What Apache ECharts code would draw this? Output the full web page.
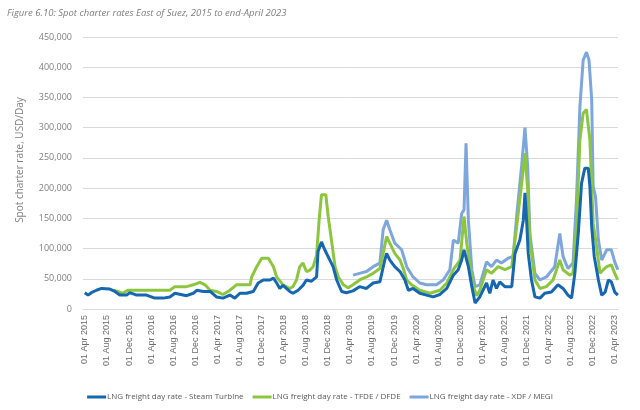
<!DOCTYPE html>
<html>
<head>
<meta charset="utf-8">
<script src="https://cdn.jsdelivr.net/npm/echarts@6/dist/echarts.min.js"></script>
<style>
html,body{margin:0;padding:0;background:#fff;}
#chart{width:640px;height:410px;}
</style>
</head>
<body>
<div id="chart"></div>
<script>
// ---- Data (USD/day, thousands) ----
var seriesNames = [
  'LNG freight day rate - Steam Turbine',
  'LNG freight day rate - TFDE / DFDE',
  'LNG freight day rate - XDF / MEGI'
];

var steamDates = ['2015-04-01','2015-04-19','2015-05-07','2015-06-04','2015-07-02','2015-08-17','2015-09-14','2015-10-11','2015-11-17','2015-12-05','2016-01-12','2016-03-06','2016-04-21','2016-06-06','2016-07-13','2016-08-10','2016-10-13','2016-11-19','2016-12-08','2017-01-14','2017-02-20','2017-03-27','2017-05-02','2017-06-09','2017-07-06','2017-08-03','2017-09-09','2017-10-16','2017-11-12','2017-12-10','2018-01-16','2018-02-04','2018-02-22','2018-03-11','2018-03-29','2018-05-05','2018-05-23','2018-06-20','2018-07-17','2018-08-05','2018-09-02','2018-09-30','2018-10-08','2018-10-27','2018-11-14','2018-11-24','2018-12-12','2018-12-30','2019-01-19','2019-02-15','2019-03-13','2019-04-19','2019-05-25','2019-07-02','2019-08-08','2019-09-14','2019-10-11','2019-10-21','2019-11-08','2019-12-05','2020-01-03','2020-01-30','2020-02-18','2020-03-15','2020-04-21','2020-05-28','2020-07-04','2020-08-10','2020-09-17','2020-10-23','2020-11-19','2020-12-08','2020-12-21','2021-01-01','2021-01-14','2021-02-02','2021-02-20','2021-03-18','2021-04-24','2021-05-12','2021-05-30','2021-06-18','2021-07-06','2021-08-03','2021-09-10','2021-09-28','2021-10-25','2021-11-13','2021-11-22','2021-12-01','2021-12-10','2021-12-28','2022-01-16','2022-02-13','2022-03-11','2022-04-17','2022-05-23','2022-06-20','2022-07-17','2022-08-06','2022-08-24','2022-09-12','2022-09-30','2022-10-18','2022-11-06','2022-11-15','2022-11-25','2022-12-09','2023-01-01','2023-01-19','2023-02-07','2023-02-25','2023-03-13','2023-04-01','2023-04-18'];
var steamValues = [27,23,27,31,34,33,29,23,23,27,23,23,18,18,20,26,22,26,31,29,29,20,18,23,18,26,26,29,43,48,48,51,43,34,39,29,26,31,39,48,46,53,95,111,98,98,81,70,48,29,27,30,37,34,43,45,81,92,81,70,62,48,31,34,26,23,20,24,34,56,65,81,98,100,70,37,10,20,43,26,48,34,45,37,37,92,114,147,192,147,92,48,20,18,26,28,40,34,23,18,59,125,208,233,233,203,136,87,48,23,28,48,45,28,23];

var tfdeDates = ['2015-09-05','2015-09-30','2015-10-27','2015-11-24','2016-02-15','2016-05-18','2016-07-13','2016-08-10','2016-10-13','2016-11-19','2016-12-26','2017-01-23','2017-02-20','2017-03-27','2017-05-02','2017-06-09','2017-07-15','2017-09-28','2017-10-07','2017-11-04','2017-12-01','2018-01-07','2018-02-04','2018-02-22','2018-03-29','2018-05-05','2018-05-23','2018-06-11','2018-06-29','2018-07-17','2018-08-05','2018-08-23','2018-09-11','2018-09-30','2018-10-14','2018-10-27','2018-11-20','2018-12-03','2018-12-21','2019-01-10','2019-01-28','2019-02-25','2019-03-22','2019-04-19','2019-05-25','2019-07-02','2019-08-08','2019-09-14','2019-10-02','2019-10-21','2019-11-08','2019-12-05','2020-01-03','2020-01-21','2020-02-09','2020-03-07','2020-04-21','2020-06-16','2020-08-10','2020-09-17','2020-10-23','2020-11-29','2020-12-21','2021-01-05','2021-01-23','2021-02-11','2021-03-01','2021-03-18','2021-04-24','2021-05-21','2021-06-27','2021-08-03','2021-09-10','2021-10-07','2021-11-04','2021-11-22','2021-12-07','2021-12-19','2022-01-16','2022-02-13','2022-03-20','2022-04-26','2022-06-02','2022-06-20','2022-07-27','2022-08-14','2022-09-02','2022-09-21','2022-10-09','2022-10-27','2022-11-15','2022-12-03','2022-12-22','2023-01-10','2023-01-28','2023-02-16','2023-03-13','2023-04-01','2023-04-18'];
var tfdeValues = [31,29,26,31,31,31,31,37,37,40,44,40,31,29,24,31,40,40,53,70,84,84,70,53,40,34,37,48,70,76,62,64,70,89,147,189,189,153,114,70,53,40,35,40,48,53,59,67,92,120,109,92,81,67,48,40,31,26,31,43,65,81,153,109,70,37,22,31,65,59,70,65,70,136,208,258,197,114,48,34,37,48,81,65,56,59,136,280,324,330,280,142,103,59,65,70,73,59,48];

var xdfDates = ['2019-04-19','2019-05-25','2019-07-02','2019-08-08','2019-09-14','2019-10-02','2019-10-21','2019-11-08','2019-12-05','2020-01-12','2020-02-09','2020-03-15','2020-04-21','2020-05-28','2020-07-22','2020-08-28','2020-10-04','2020-10-23','2020-11-19','2020-12-08','2020-12-21','2021-01-01','2021-01-14','2021-02-02','2021-02-20','2021-03-18','2021-04-24','2021-05-21','2021-06-18','2021-07-15','2021-08-21','2021-09-18','2021-10-07','2021-11-04','2021-11-22','2021-12-07','2021-12-19','2022-01-16','2022-02-13','2022-03-20','2022-05-05','2022-06-02','2022-06-20','2022-07-17','2022-08-14','2022-09-02','2022-09-21','2022-10-09','2022-10-27','2022-11-10','2022-11-25','2022-12-03','2022-12-16','2023-01-01','2023-01-19','2023-02-16','2023-03-13','2023-04-01','2023-04-18'];
var xdfValues = [56,59,62,70,76,131,147,131,109,98,70,53,43,40,40,48,65,114,109,158,164,274,147,65,37,40,78,70,81,76,84,87,153,238,300,236,125,59,48,53,70,125,87,67,76,180,335,412,425,412,346,203,186,114,81,98,98,78,65];

var xLabelDates = ['2015-04-01','2015-08-01','2015-12-01','2016-04-01','2016-08-01','2016-12-01','2017-04-01','2017-08-01','2017-12-01','2018-04-01','2018-08-01','2018-12-01','2019-04-01','2019-08-01','2019-12-01','2020-04-01','2020-08-01','2020-12-01','2021-04-01','2021-08-01','2021-12-01','2022-04-01','2022-08-01','2022-12-01','2023-04-01'];
var yTicks = [0,50000,100000,150000,200000,250000,300000,350000,400000,450000];

var monthNames = ['Jan','Feb','Mar','Apr','May','Jun','Jul','Aug','Sep','Oct','Nov','Dec'];
function ts(s){ var p = s.split('-'); return Date.UTC(+p[0], +p[1]-1, +p[2]); }
function pairs(dates, vals){ return dates.map(function(d,i){ return [ts(d), vals[i]*1000]; }); }
function fmtDate(v){ var d = new Date(v); var dd = d.getUTCDate(); return (dd<10?'0':'')+dd+' '+monthNames[d.getUTCMonth()]+' '+d.getUTCFullYear(); }
function fmtNum(v){ return String(v).replace(/\B(?=(\d{3})+(?!\d))/g, ','); }

var colors = ['#1467b0','#8cc63f','#7da6dc'];
var chart = echarts.init(document.getElementById('chart'), null, {renderer:'canvas'});
var option = {
  animation: false,
  backgroundColor: '#ffffff',
  title: {
    text: 'Figure 6.10: Spot charter rates East of Suez, 2015 to end-April 2023',
    left: 2, top: 3,
    textStyle: {fontFamily:'Open Sans', fontStyle:'italic', fontWeight:'normal', fontSize:9.5, color:'#7f7f7f'}
  },
  legend: {
    data: seriesNames,
    bottom: 4, left: 'center',
    icon: 'rect', itemWidth: 19, itemHeight: 3, itemGap: 9,
    textStyle: {fontFamily:'Open Sans', fontSize:8, color:'#595959', padding:[0,0,0,-4]}
  },
  grid: {left:83, right:22, top:37, bottom:101, containLabel:false},
  xAxis: {
    type: 'value',
    min: ts('2015-03-22'), max: ts('2023-04-19'),
    splitLine: {show:false},
    axisTick: {show:false},
    axisLine: {show:true, lineStyle:{color:'#d9d9d9', width:1}},
    axisLabel: {
      customValues: xLabelDates.map(ts),
      rotate: 90, margin: 6,
      fontFamily: 'Liberation Sans', fontSize: 9, color: '#6b6b6b',
      formatter: fmtDate
    }
  },
  yAxis: {
    type: 'value', min: 0, max: 450000, interval: 50000,
    axisLine: {show:false}, axisTick: {show:false},
    splitLine: {show:true, lineStyle:{color:'#d9d9d9', width:1}},
    axisLabel: {margin: 11, fontFamily:'Open Sans', fontSize:9, color:'#7f7f7f', formatter: function(v){ return fmtNum(v); }}
  },
  graphic: [{
    type: 'text', x: 20, y: 160, rotation: Math.PI/2,
    style: {text:'Spot charter rate, USD/Day', fontFamily:'Open Sans', fontSize:10, fill:'#7f7f7f', align:'center', verticalAlign:'middle'}
  }],
  series: [
    {name: seriesNames[2], type:'line', data: pairs(xdfDates, xdfValues), showSymbol:false, symbol:'none', color: colors[2], lineStyle:{width:3, color: colors[2]}, z:1},
    {name: seriesNames[1], type:'line', data: pairs(tfdeDates, tfdeValues), showSymbol:false, symbol:'none', color: colors[1], lineStyle:{width:3, color: colors[1]}, z:2},
    {name: seriesNames[0], type:'line', data: pairs(steamDates, steamValues), showSymbol:false, symbol:'none', color: colors[0], lineStyle:{width:3, color: colors[0]}, z:3}
  ]
};
chart.setOption(option);
</script>
</body>
</html>
